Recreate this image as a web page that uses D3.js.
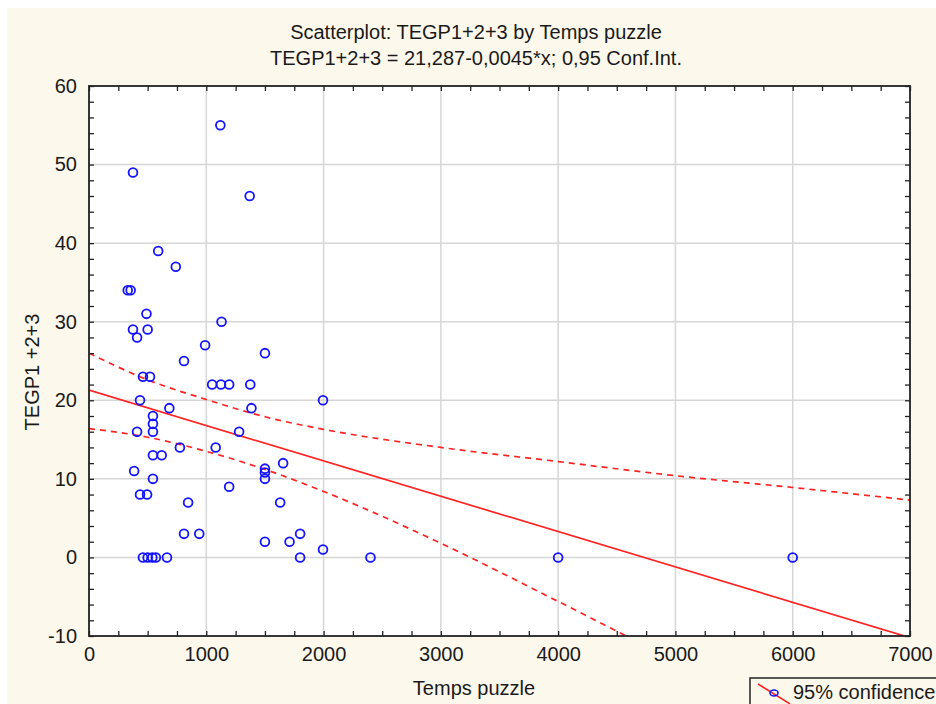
<!DOCTYPE html>
<html>
<head>
<meta charset="utf-8">
<script src="https://cdnjs.cloudflare.com/ajax/libs/d3/7.8.5/d3.min.js"></script>
<style>
  html, body { margin: 0; padding: 0; background: #fff; }
  text { font-family: "Liberation Sans", Arial, sans-serif; fill: #1a1a1a; }
</style>
</head>
<body>
<div id="chart"></div>
<script>
// Temps puzzle (x) and TEGP1+2+3 (y)
const tempsPuzzle = [1120, 375, 1370, 590, 740, 330, 355, 490, 1130, 375,
  500, 410, 990, 1500, 810, 460, 520, 1050, 1125, 1195,
  1375, 435, 1995, 685, 1385, 545, 545, 545, 410, 1280,
  775, 1080, 545, 620, 1655, 385, 1500, 1500, 1500, 545,
  435, 495, 1195, 845, 1630, 810, 940, 1800, 1500, 1710,
  1995, 460, 500, 540, 570, 665, 1800, 2400, 4000, 6000];
const tegpScore = [55, 49, 46, 39, 37, 34, 34, 31, 30, 29,
  29, 28, 27, 26, 25, 23, 23, 22, 22, 22,
  22, 20, 20, 19, 19, 18, 17, 16, 16, 16,
  14, 14, 13, 13, 12, 11, 11.3, 10.8, 10, 10,
  8, 8, 9, 7, 7, 3, 3, 3, 2, 2,
  1, 0, 0, 0, 0, 0, 0, 0, 0, 0];

// 0,95 confidence band
const upperX = [0, 500, 1000, 1500, 2000, 3000, 4000, 5000, 6000, 7000];
const upperY = [26.0, 22.6, 20.1, 17.9, 16.3, 14.0, 12.2, 10.4, 8.9, 7.3];
const lowerX = [0, 500, 1000, 1500, 2000, 3000, 4000, 5000];
const lowerY = [16.4, 15.3, 13.5, 11.2, 8.4, 1.8, -5.6, -13.2];

// fitted line: TEGP1+2+3 = 21,287 - 0,0045*x
const intercept = 21.287;
const slope = -0.0045;

const xTicks = [0, 1000, 2000, 3000, 4000, 5000, 6000, 7000];
const yTicks = [-10, 0, 10, 20, 30, 40, 50, 60];

const W = 936, H = 704;
const margin = {top: 86, right: 26, bottom: 68, left: 89};
const width = 910 - margin.left;
const height = 636 - margin.top;

const svg = d3.select("#chart").append("svg")
  .attr("width", W).attr("height", H);

// cream background
svg.append("rect").attr("x", 7).attr("y", 8).attr("width", W - 7).attr("height", H - 8)
  .attr("fill", "#fdf8ec");

// titles
svg.append("text").attr("x", 476).attr("y", 39).attr("text-anchor", "middle")
  .attr("font-size", 20).text("Scatterplot: TEGP1+2+3 by Temps puzzle");
svg.append("text").attr("x", 476).attr("y", 65).attr("text-anchor", "middle")
  .attr("font-size", 20).text("TEGP1+2+3 = 21,287-0,0045*x; 0,95 Conf.Int.");

const g = svg.append("g").attr("transform", "translate(" + margin.left + "," + margin.top + ")");

g.append("rect").attr("width", width).attr("height", height).attr("fill", "#fff");

let x = d3.scaleLinear().domain([0, 7000]).range([0, width]);
let y = d3.scaleLinear().domain([-10, 60]).range([height, 0]);

// grid
g.append("g").selectAll("line").data(xTicks.slice(1, -1)).join("line")
  .attr("x1", d => x(d)).attr("x2", d => x(d)).attr("y1", 0).attr("y2", height)
  .attr("stroke", "#d6d6d6").attr("stroke-width", 1.5);
g.append("g").selectAll("line").data(yTicks.slice(1, -1)).join("line")
  .attr("y1", d => y(d)).attr("y2", d => y(d)).attr("x1", 0).attr("x2", width)
  .attr("stroke", "#d6d6d6").attr("stroke-width", 1.5);

// clip for the lines
g.append("defs").append("clipPath").attr("id", "clip")
  .append("rect").attr("width", width).attr("height", height);

const lines = g.append("g").attr("clip-path", "url(#clip)");

lines.append("path")
  .datum([0, 7000])
  .attr("fill", "none").attr("stroke", "#ff2424").attr("stroke-width", 1.7)
  .attr("d", d3.line().x(d => x(d)).y(d => y(intercept + slope * d)));

const band = d3.line().curve(d3.curveMonotoneX).x(d => x(d[0])).y(d => y(d[1]));
lines.append("path")
  .datum(d3.zip(upperX, upperY))
  .attr("fill", "none").attr("stroke", "#ff2424").attr("stroke-width", 1.7)
  .attr("stroke-dasharray", "6,5").attr("d", band);
lines.append("path")
  .datum(d3.zip(lowerX, lowerY))
  .attr("fill", "none").attr("stroke", "#ff2424").attr("stroke-width", 1.7)
  .attr("stroke-dasharray", "6,5").attr("d", band);

// points
g.append("g").selectAll("circle").data(d3.zip(tempsPuzzle, tegpScore)).join("circle")
  .attr("cx", d => x(d[0])).attr("cy", d => y(d[1])).attr("r", 4.4)
  .attr("fill", "none").attr("stroke", "#1414ff").attr("stroke-width", 1.8);

// axes: ticks point inward, minor ticks every 250 / 2
const xMinor = d3.range(0, 7001, 250);
const yMinor = d3.range(-10, 61, 2);
const fmt = d => String(d);   // plain hyphen for negatives, as in the original

function styleAxis(sel) {
  sel.select(".domain").remove();
  sel.selectAll(".tick line").attr("stroke", "#222").attr("stroke-width", 1.3);
  sel.selectAll("text").attr("font-size", 20).attr("fill", "#1a1a1a")
    .attr("font-family", "\"Liberation Sans\", Arial, sans-serif");
}

g.append("g").attr("transform", "translate(0," + height + ")")
  .call(d3.axisBottom(x).tickValues(xMinor).tickSize(-5).tickFormat(""))
  .call(styleAxis);
g.append("g")
  .call(d3.axisTop(x).tickValues(xMinor).tickSize(-5).tickFormat(""))
  .call(styleAxis);
g.append("g")
  .call(d3.axisLeft(y).tickValues(yMinor).tickSize(-5).tickFormat(""))
  .call(styleAxis);
g.append("g").attr("transform", "translate(" + width + ",0)")
  .call(d3.axisRight(y).tickValues(yMinor).tickSize(-5).tickFormat(""))
  .call(styleAxis);

// labels
g.append("g").attr("transform", "translate(0," + height + ")")
  .call(d3.axisBottom(x).tickValues(xTicks).tickSize(0).tickPadding(11).tickFormat(fmt))
  .call(styleAxis);
g.append("g")
  .call(d3.axisLeft(y).tickValues(yTicks).tickSize(0).tickPadding(12).tickFormat(fmt))
  .call(styleAxis);

// frame
g.append("rect").attr("width", width).attr("height", height)
  .attr("fill", "none").attr("stroke", "#222").attr("stroke-width", 1.8);

// axis titles
svg.append("text").attr("x", 474).attr("y", 695).attr("text-anchor", "middle")
  .attr("font-size", 20).text("Temps puzzle");
svg.append("text").attr("transform", "translate(39,372) rotate(-90)")
  .attr("text-anchor", "middle").attr("font-size", 20).text("TEGP1 +2+3");

// legend
const leg = svg.append("g").attr("transform", "translate(750,678)");
leg.append("rect").attr("width", 200).attr("height", 40)
  .attr("fill", "#fdf8ec").attr("stroke", "#222").attr("stroke-width", 1.5);
leg.append("line").attr("x1", 8).attr("y1", 6).attr("x2", 40).attr("y2", 26)
  .attr("stroke", "#ff2424").attr("stroke-width", 1.5);
leg.append("ellipse").attr("cx", 24).attr("cy", 15).attr("rx", 4).attr("ry", 3)
  .attr("fill", "none").attr("stroke", "#1414ff").attr("stroke-width", 1.6);
leg.append("text").attr("x", 43).attr("y", 21).attr("font-size", 20).text("95% confidence");
</script>
</body>
</html>
